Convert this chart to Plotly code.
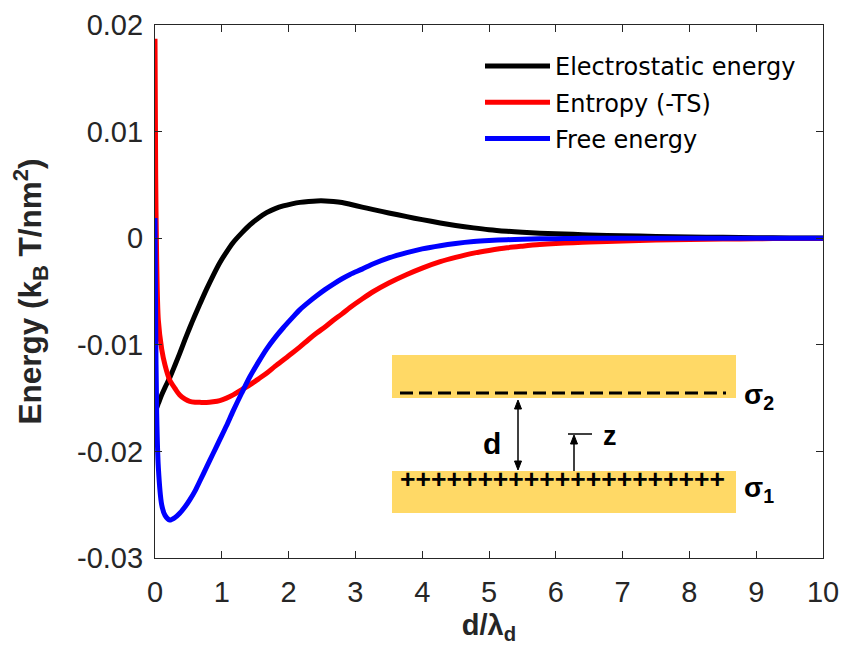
import plotly.graph_objects as go

# Plate separation in Debye lengths
d_ratio = [0, 0.01, 0.025, 0.05, 0.1, 0.15, 0.22, 0.3, 0.37, 0.45, 0.52, 0.6, 0.67,
           0.77, 0.87, 0.97, 1.07, 1.17, 1.3, 1.42, 1.55, 1.67, 1.8, 1.92, 2.05,
           2.17, 2.3, 2.42, 2.55, 2.67, 2.8, 2.92, 3.1, 3.27, 3.5, 3.77, 4.0, 4.27,
           4.5, 4.77, 5.0, 5.27, 5.5, 5.76, 6.0, 6.26, 6.5, 7.0, 7.5, 8.0, 8.5,
           9.0, 9.5, 10.0]

# Energies per unit area (kB T / nm^2)
electrostatic = [-0.0163, -0.0161, -0.0159, -0.0155, -0.0147, -0.0140, -0.0131,
                 -0.0119, -0.0108, -0.0095, -0.0084, -0.0072, -0.0062, -0.0048,
                 -0.0035, -0.0023, -0.0013, -0.0004, 0.0005, 0.00125, 0.0019,
                 0.0024, 0.00278, 0.00303, 0.00322, 0.00336, 0.00345, 0.0035,
                 0.0035, 0.00345, 0.00335, 0.00318, 0.00292, 0.00268, 0.00237,
                 0.00202, 0.00174, 0.00143, 0.0012, 0.00097, 0.0008, 0.00065,
                 0.00055, 0.00047, 0.00041, 0.00036, 0.00031, 0.00023, 0.00017,
                 0.00012, 0.00008, 0.00005, 0.00003, 0.00002]

entropy = [0.0187, 0.006, -0.002, -0.0077, -0.0104, -0.0119, -0.0133, -0.0141,
           -0.0147, -0.0151, -0.0153, -0.01538, -0.0154, -0.01542, -0.01535,
           -0.01523, -0.0150, -0.0147, -0.0142, -0.01376, -0.0132, -0.01267,
           -0.0120, -0.01142, -0.0108, -0.0102, -0.0095, -0.0089, -0.0083,
           -0.0077, -0.0071, -0.0065, -0.0057, -0.0050, -0.0042, -0.0034,
           -0.0028, -0.0022, -0.0018, -0.0014, -0.00115, -0.0009, -0.00075,
           -0.0006, -0.0005, -0.00042, -0.00036, -0.00026, -0.00018, -0.00012,
           -0.00008, -0.00005, -0.00003, -0.00002]

free_energy = [0.0019, -0.008, -0.0164, -0.0215, -0.0250, -0.0260, -0.02643,
               -0.0262, -0.0258, -0.0252, -0.02455, -0.0237, -0.0228, -0.0215,
               -0.0202, -0.0189, -0.0176, -0.0162, -0.0145, -0.0130, -0.0116,
               -0.0104, -0.0093, -0.0084, -0.0075, -0.0067, -0.0060, -0.0054,
               -0.0048, -0.0043, -0.0038, -0.0034, -0.0029, -0.0024, -0.00185,
               -0.00135, -0.001, -0.0007, -0.0005, -0.00032, -0.00022,
               -0.00014, -0.00009, -0.00006, -0.00004, -0.00002, -0.00001,
               0, 0, 0, 0, 0, 0, 0]

series_names = ["Electrostatic energy", "Entropy (-TS)", "Free energy"]
series_colors = ["#000000", "#ff0000", "#0000ff"]

y_tickvals = [-0.03, -0.02, -0.01, 0, 0.01, 0.02]
y_ticktext = ["-0.03", "-0.02", "-0.01", "0", "0.01", "0.02"]
x_tickvals = list(range(0, 11))
x_ticktext = [str(v) for v in x_tickvals]

W, H = 844, 645
L, R, T, B = 155, 823, 25, 558  # plot-area edges in pixels
FONT = "Liberation Sans, Arial, Helvetica, sans-serif"
LEGEND_FONT = "DejaVu Sans, Liberation Sans, Arial, sans-serif"
AXIS_COLOR = "#262626"


def px(x):
    return (x - L) / (R - L)


def py(y):
    return (B - y) / (B - T)


fig = go.Figure()
for name, vals, col in zip(series_names, [electrostatic, entropy, free_energy], series_colors):
    fig.add_trace(go.Scatter(x=d_ratio, y=vals, mode="lines", name=name, legendgroup=name,
                             line=dict(color=col, width=5, shape="spline", smoothing=0.8)))

axis_common = dict(showline=True, linecolor=AXIS_COLOR, linewidth=1.2, mirror="ticks",
                   ticks="inside", ticklen=7, tickwidth=1.2, tickcolor=AXIS_COLOR,
                   showgrid=False, zeroline=False, automargin=False,
                   tickfont=dict(family=FONT, size=29, color=AXIS_COLOR))

fig.update_xaxes(range=[0, 10], tickvals=x_tickvals, ticktext=x_ticktext,
                 ticklabelstandoff=8,
                 title=dict(text="<b>d/λ<sub>d</sub></b>", standoff=10,
                            font=dict(family=FONT, size=29, color=AXIS_COLOR)),
                 **axis_common)
fig.update_yaxes(range=[-0.03, 0.02], tickvals=y_tickvals, ticktext=y_ticktext,
                 ticklabelstandoff=5,
                 title=dict(text="<b>Energy (k<sub>B</sub> T/nm<sup>2</sup>)</b>", standoff=25,
                            font=dict(family=FONT, size=31.5, color=AXIS_COLOR)),
                 **axis_common)

# Schematic of the two charged plates
gold = "#ffd966"
ink = "#000000"


def arrow_head(x_tip, y_tip, up=True, half=3.5, length=9):
    """Filled triangular arrow head in paper coordinates, tip at (x_tip, y_tip) pixels."""
    yb = y_tip + length if up else y_tip - length
    path = "M {} {} L {} {} L {} {} Z".format(
        px(x_tip), py(y_tip), px(x_tip - half), py(yb), px(x_tip + half), py(yb))
    return dict(type="path", xref="paper", yref="paper", path=path,
                fillcolor=ink, line=dict(color=ink, width=1))


shapes = [
    dict(type="rect", xref="paper", yref="paper", x0=px(392), x1=px(736), y0=py(398), y1=py(355),
         fillcolor=gold, line=dict(width=0), layer="below"),
    dict(type="rect", xref="paper", yref="paper", x0=px(392), x1=px(736), y0=py(513), y1=py(471),
         fillcolor=gold, line=dict(width=0), layer="below"),
    # negative surface charges
    dict(type="line", xref="paper", yref="paper", x0=px(400), x1=px(726), y0=py(393), y1=py(393),
         line=dict(color=ink, width=3, dash="13px,6px")),
    # separation d (double-headed arrow)
    dict(type="line", xref="paper", yref="paper", x0=px(518), x1=px(518), y0=py(404), y1=py(466),
         line=dict(color=ink, width=1.5)),
    arrow_head(518, 400, up=True),
    arrow_head(518, 470, up=False),
    # position z
    dict(type="line", xref="paper", yref="paper", x0=px(574), x1=px(574), y0=py(439), y1=py(471),
         line=dict(color=ink, width=1.5)),
    arrow_head(574, 435, up=True),
    dict(type="line", xref="paper", yref="paper", x0=px(568), x1=px(592), y0=py(434), y1=py(434),
         line=dict(color=ink, width=1.5)),
]

annotations = [
    dict(xref="paper", yref="paper", x=px(562), y=py(479), text="<b>" + "+" * 21 + "</b>",
         showarrow=False, xanchor="center", yanchor="middle",
         font=dict(family=FONT, size=26.5, color=ink)),
    dict(xref="paper", yref="paper", x=px(742), y=py(397), text="<b>σ<sub>2</sub></b>",
         showarrow=False, xanchor="left", yanchor="middle",
         font=dict(family=FONT, size=28, color=ink)),
    dict(xref="paper", yref="paper", x=px(742), y=py(489), text="<b>σ<sub>1</sub></b>",
         showarrow=False, xanchor="left", yanchor="middle",
         font=dict(family=FONT, size=28, color=ink)),
    dict(xref="paper", yref="paper", x=px(492), y=py(443), text="<b>d</b>",
         showarrow=False, xanchor="center", yanchor="middle",
         font=dict(family=FONT, size=30, color=ink)),
    dict(xref="paper", yref="paper", x=px(610), y=py(436), text="<b>z</b>",
         showarrow=False, xanchor="center", yanchor="middle",
         font=dict(family=FONT, size=27, color=ink)),
]

fig.update_layout(
    width=W, height=H,
    margin=dict(l=L, r=W - R, t=T, b=H - B, pad=0),
    paper_bgcolor="#ffffff", plot_bgcolor="#ffffff",
    font=dict(family=FONT, color=ink),
    showlegend=True,
    legend=dict(x=px(480), y=py(44), xanchor="left", yanchor="top",
                bgcolor="rgba(0,0,0,0)", borderwidth=0, itemwidth=65,
                font=dict(family=LEGEND_FONT, size=24, color=ink),
                traceorder="grouped", tracegroupgap=2),
    shapes=shapes,
    annotations=annotations,
)

fig.write_html("out.html")
